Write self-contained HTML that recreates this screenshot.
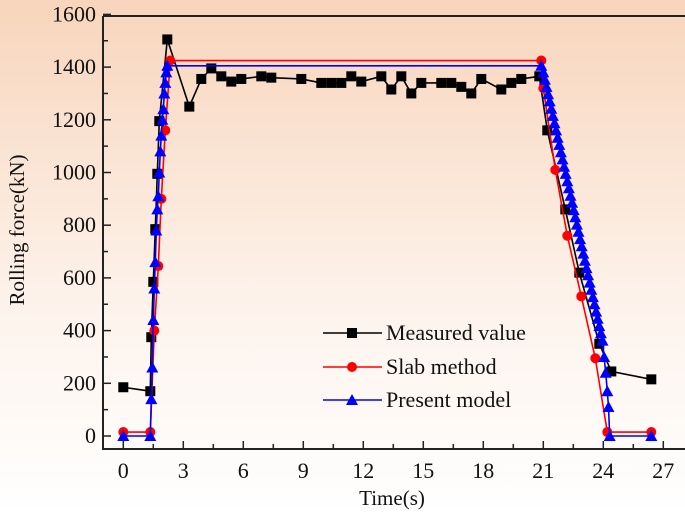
<!DOCTYPE html>
<html><head><meta charset="utf-8"><style>
html,body{margin:0;padding:0}
body{width:685px;height:515px;overflow:hidden;background:linear-gradient(#f8d5bc,#fdf3ec 60%,#ffffff)}
svg{display:block}
text{font-family:"Liberation Serif",serif;fill:#111}
</style></head><body>
<svg id="chart" width="685" height="515" xmlns="http://www.w3.org/2000/svg" font-family="Liberation Serif, serif">
<g id="axes"></g>
<g id="series"></g>
<g id="legend"></g>
<text transform="translate(24,230) rotate(-90)" text-anchor="middle" font-size="21">Rolling force(kN)</text>
<text x="392" y="505" text-anchor="middle" font-size="21">Time(s)</text>
</svg>
<script>
const xTicks=[0,3,6,9,12,15,18,21,24,27];
const yTicks=[0,200,400,600,800,1000,1200,1400,1600];
const measT=[0,1.35,1.4,1.5,1.6,1.7,1.8,2.2,3.3,3.9,4.4,4.9,5.4,5.9,6.9,7.4,8.9,9.9,10.4,10.9,11.4,11.9,12.9,13.4,13.9,14.4,14.9,15.9,16.4,16.9,17.4,17.9,18.9,19.4,19.9,20.8,21.2,22.1,22.8,23.8,24.4,26.4];
const measV=[185,170,375,585,785,995,1195,1505,1250,1355,1395,1365,1345,1355,1365,1360,1355,1340,1340,1340,1365,1345,1365,1315,1365,1300,1340,1340,1340,1325,1300,1355,1315,1340,1355,1365,1160,860,620,350,245,215];
const slabT=[0,1.35,1.55,1.75,1.9,2.1,2.35,20.9,21.0,21.6,22.2,22.9,23.6,24.2,26.4];
const slabV=[15,15,400,645,900,1160,1425,1425,1320,1010,760,530,295,15,15];
const presT=[0,1.35,1.4,1.45,1.5,1.55,1.6,1.65,1.7,1.75,1.8,1.85,1.9,1.95,2.0,2.05,2.1,2.15,2.2,20.9,
21.0,21.08,21.16,21.24,21.32,21.4,21.48,21.56,21.64,21.72,21.8,21.88,21.96,22.04,22.12,22.2,22.28,22.36,22.44,22.52,22.6,22.68,22.76,22.84,22.92,23.0,23.08,23.16,23.24,23.32,23.4,23.48,23.56,23.64,23.72,23.8,23.88,23.96,24.04,24.12,24.2,24.26,24.32,26.4];
const presV=[0,0,140,260,440,560,660,780,860,910,1000,1080,1140,1200,1240,1300,1340,1380,1405,1405,
1380,1352,1325,1297,1270,1242,1215,1187,1160,1132,1105,1077,1050,1022,995,967,940,912,885,857,830,802,775,747,720,692,665,637,610,582,555,527,500,472,445,417,390,362,300,240,170,110,0,0];
const X=t=>123.3+t*20, Y=v=>436-v*0.2635;
const NS="http://www.w3.org/2000/svg";
function mk(tag,attrs,parent){const e=document.createElementNS(NS,tag);for(const k in attrs)e.setAttribute(k,attrs[k]);parent.appendChild(e);return e;}
const ax=document.getElementById('axes');
let a=mk('path',{d:'M103,16 L103,449 L685,449 M103,16 L685,16',stroke:'#222','stroke-width':2,fill:'none'},ax);


xTicks.forEach((t,i)=>{
 let l=mk('line',{x1:X(t),x2:X(t),y1:449,y2:441,stroke:'#222','stroke-width':1.5},ax);
 
 
 let m=mk('line',{x1:X(t+1.5),x2:X(t+1.5),y1:449,y2:444,stroke:'#222','stroke-width':1.5},ax);
 
 
 let tx=mk('text',{x:X(t),y:478,'text-anchor':'middle','font-size':22},ax);tx.textContent=t;
 
 
});
yTicks.forEach(v=>{
 let l=mk('line',{x1:103,x2:111,y1:Y(v),y2:Y(v),stroke:'#222','stroke-width':1.5},ax);
 
 
 if(v<1600){let m=mk('line',{x1:103,x2:108,y1:Y(v+100),y2:Y(v+100),stroke:'#222','stroke-width':1.5},ax);
 
 }
 let tx=mk('text',{x:96,y:Y(v)+7,'text-anchor':'end','font-size':22},ax);tx.textContent=v;
 
 
});
const sg=document.getElementById('series');
function marker(type,cx,cy,col,p){
 let e;
 if(type==='sq')e=mk('rect',{x:cx-5,y:cy-5,width:10,height:10,fill:col},p);
 else if(type==='ci')e=mk('circle',{cx:cx,cy:cy,r:5,fill:col},p);
 else e=mk('path',{d:`M${cx},${cy-6} L${cx+6},${cy+5} L${cx-6},${cy+5}Z`,fill:col},p);
 return e;
}
function series(T,V,col,type,name){
 const g=mk('g',{},sg);
 
 
 let pl=mk('polyline',{points:T.map((t,i)=>X(t)+','+Y(V[i])).join(' '),fill:'none',stroke:col,'stroke-width':1.6},g);
 
 
 T.forEach((t,i)=>{let m=marker(type,X(t),Y(V[i]),col,g);
 
 });
}
series(measT,measV,'#000','sq','measured-value-series');
series(slabT,slabV,'#f00','ci','slab-method-series');
series(presT,presV,'#00f','tr','present-model-series');
const lg=document.getElementById('legend');
[['Measured value','#000','sq',333],['Slab method','#f00','ci',367],['Present model','#00f','tr',400]].forEach(([n,c,t,y])=>{
 let l=mk('line',{x1:323,x2:382,y1:y,y2:y,stroke:c,'stroke-width':1.6},lg);
 
 
 let m=marker(t,352,y,c,lg);
 
 
 let tx=mk('text',{x:386,y:y+7,'font-size':22},lg);tx.textContent=n;
 
 
});
</script>
</body></html>
